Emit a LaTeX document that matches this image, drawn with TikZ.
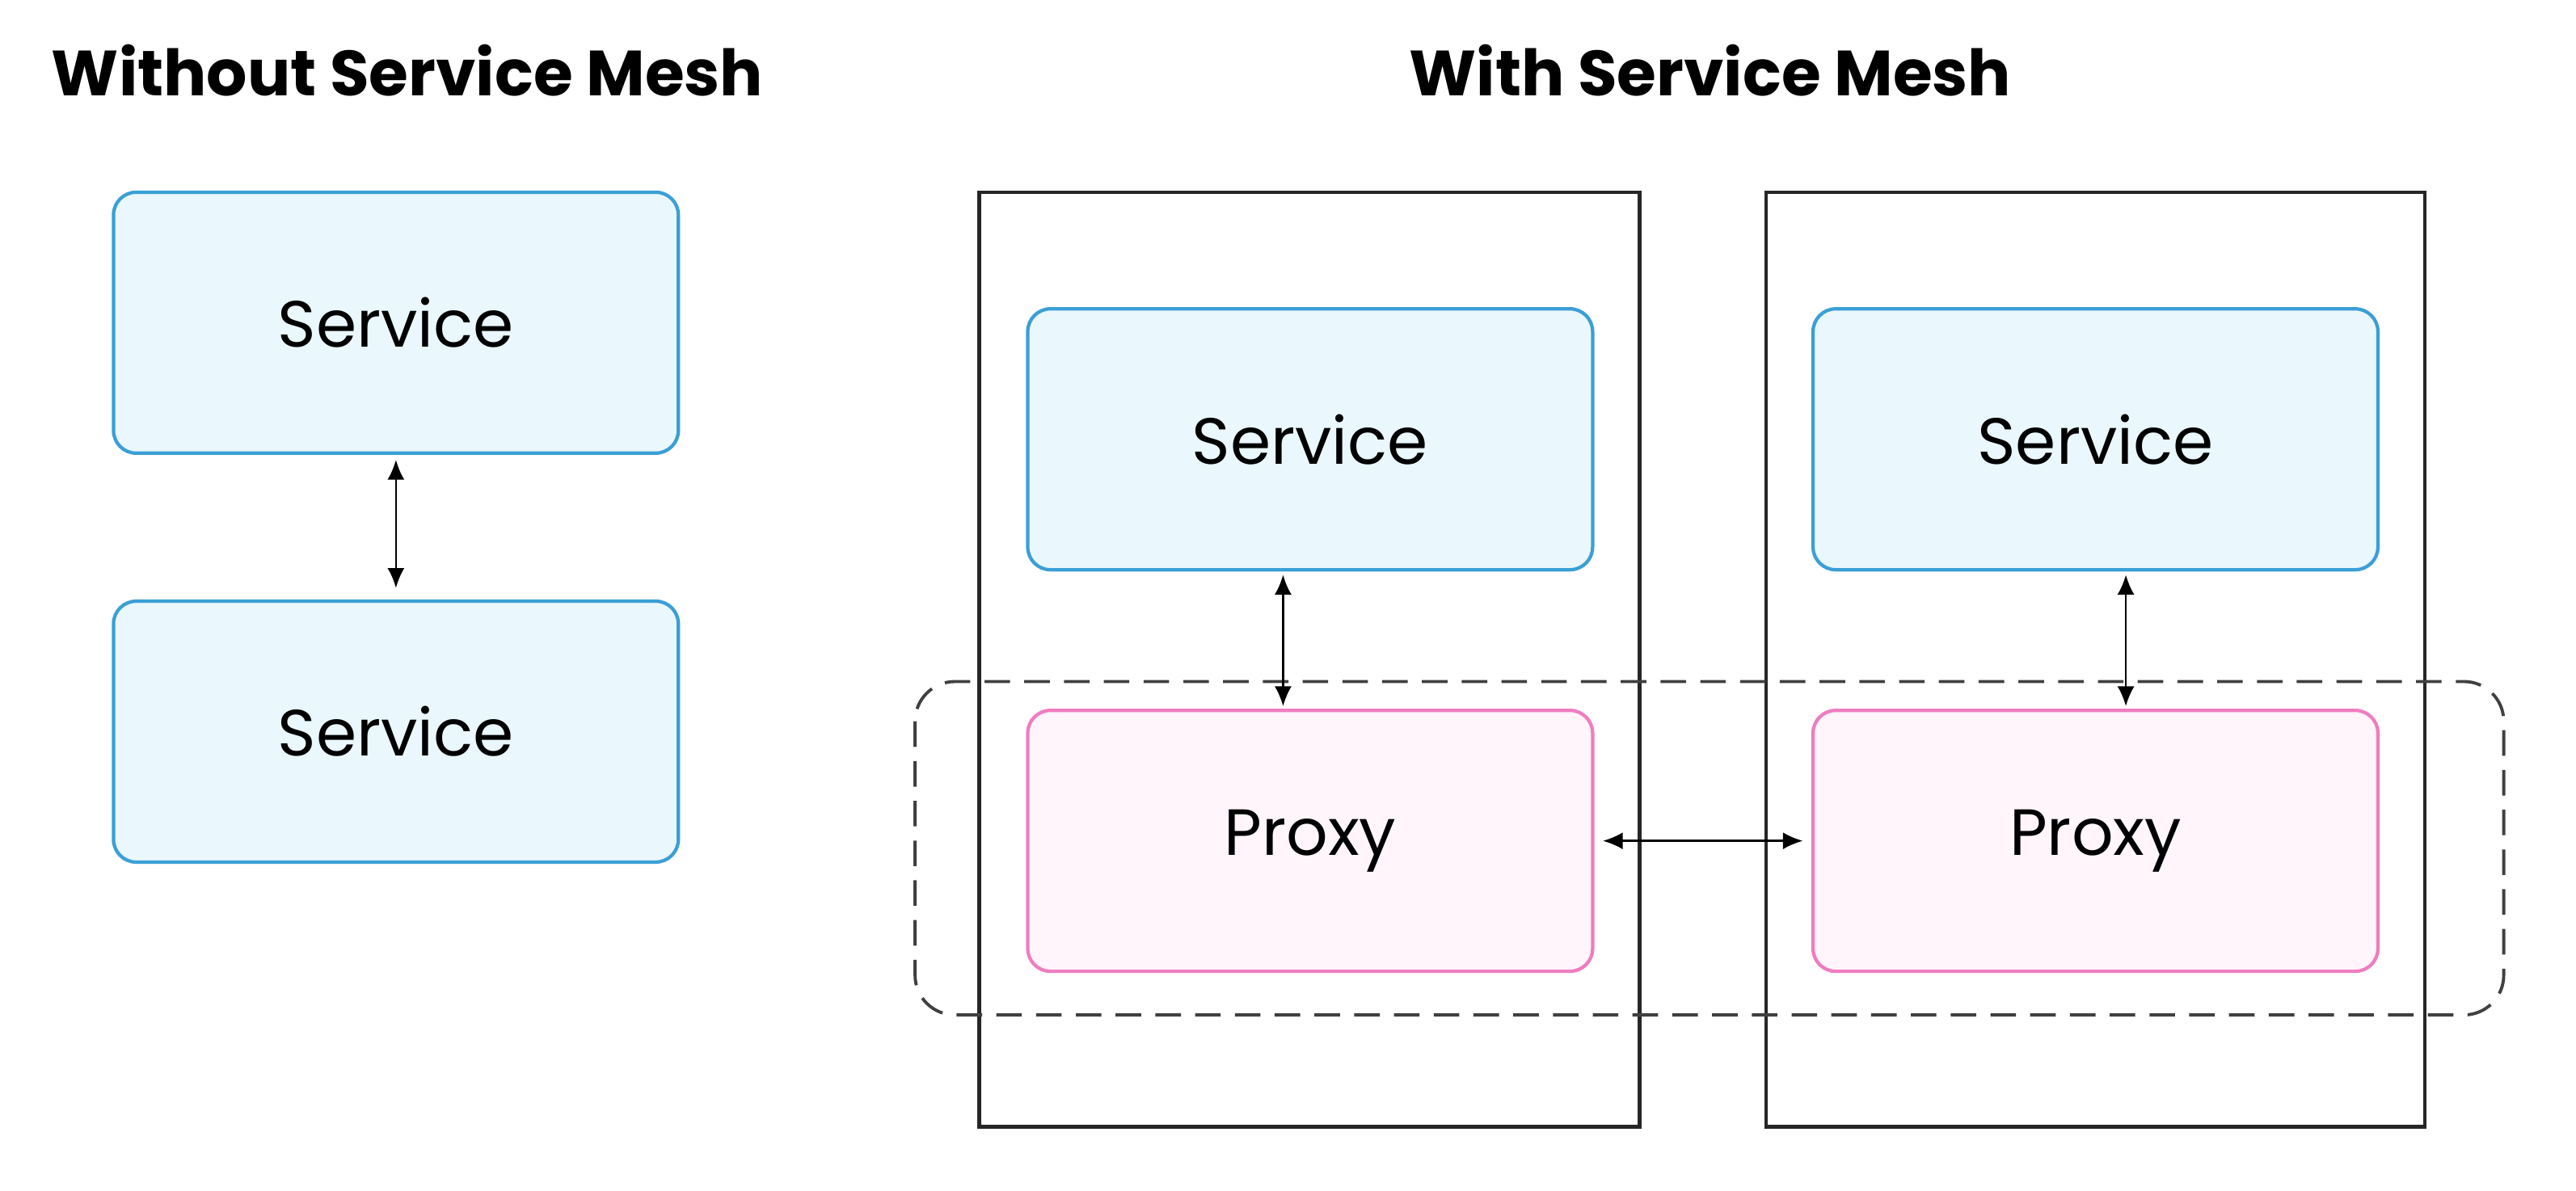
\documentclass[tikz,border=0pt]{standalone}
\usepackage{fontspec}
\setmainfont{Poppins}
\usetikzlibrary{arrows.meta, positioning}
\definecolor{svcline}{HTML}{3A9FD6}
\definecolor{svcfill}{HTML}{EAF7FD}
\definecolor{pxyline}{HTML}{F07CC0}
\definecolor{pxyfill}{HTML}{FFF5FB}
\tikzset{
  svc/.style={draw=svcline, fill=svcfill, line width=1.2pt, rounded corners=8pt,
    minimum width=6.99cm, minimum height=3.23cm, font=\fontsize{23}{26}\selectfont},
  pxy/.style={svc, draw=pxyline, fill=pxyfill},
  host/.style={draw=black!85, line width=1.3pt},
  link/.style={{Latex[length=7pt,width=6pt]}-{Latex[length=7pt,width=6pt]}, line width=0.7pt},
  ttl/.style={font=\bfseries\fontsize{22.5}{26}\selectfont}
}
\begin{document}
\begin{tikzpicture}[x=0.2033mm, y=-0.2033mm]
\useasboundingbox (0,0) rectangle (1568,725);

%% Without service mesh
\node[ttl] (ttlA) at (248,43) {Without Service Mesh};
\node[svc] (sA) at (241,196.5) {Service};
\node[svc] (sB) at (241,445.5) {Service};
\coordinate (sAb) at (241,280); \coordinate (sBt) at (241,358);
\draw[link] (sAb) -- (sBt);

%% With service mesh
\node[ttl] (ttlB) at (1041,43) {With Service Mesh};
\draw[host] (596,117) rectangle (998,686);
\draw[host] (1075,117) rectangle (1476,686);
\draw[dashed, line width=1.1pt, dash pattern=on 9pt off 5pt, rounded corners=14pt, black!75]
  (557,415) rectangle (1524,618);

\node[svc] (s1) at (797.5,267.5) {Service};
\node[svc] (s2) at (1275.5,267.5) {Service};
\node[pxy] (p1) at (797.5,512) {Proxy};
\node[pxy] (p2) at (1275.5,512) {Proxy};

\coordinate (s1b) at (781,350); \coordinate (p1t) at (781,430);
\coordinate (s2b) at (1294,350); \coordinate (p2t) at (1294,430);
\draw[link] (s1b) -- (p1t);
\draw[link] (s2b) -- (p2t);
\draw[link] ([xshift=3pt]p1.east) -- ([xshift=-3pt]p2.west);
\end{tikzpicture}
\end{document}
